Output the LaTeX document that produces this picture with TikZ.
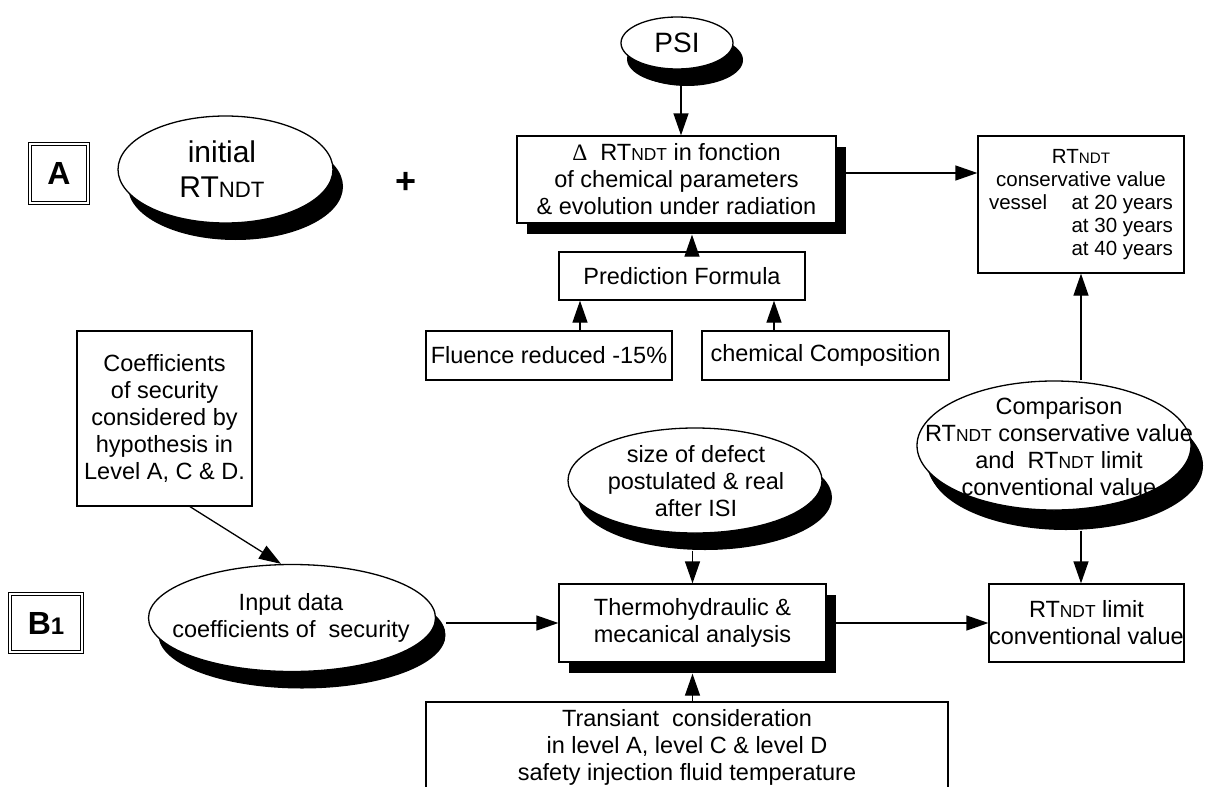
\documentclass[tikz,border=0pt]{standalone}
\usepackage{fontspec}
\setmainfont{Liberation Sans}
\newfontfamily\serifdelta{Liberation Serif}
\usepackage{graphicx}
\usetikzlibrary{arrows.meta,shapes.geometric,shadows,calc}
\newcommand\RTn{RT\scalebox{0.74}{NDT}}
\newcommand\fm{\fontsize{23.5}{27}\selectfont}
\newcommand\fsm{\fontsize{20.5}{23}\selectfont}
\tikzset{
  box/.style={draw, line width=1.3pt, rectangle, inner sep=0pt, align=center, font=\fm, fill=white},
  sbox/.style={box, general shadow={fill=black, shadow xshift=10pt, shadow yshift=-11pt}},
  oval/.style={draw, line width=1.3pt, ellipse, fill=white, inner sep=0pt,
     general shadow={fill=black, shadow xshift=10pt, shadow yshift=-17pt}},
  otext/.style={align=center, font=\fm, inner sep=0pt},
  dbox/.style={draw, double, line width=1pt, double distance=2.2pt, inner sep=0pt,
     font=\fontsize{32}{34}\selectfont\bfseries},
  arr/.style={line width=1.3pt, -{Triangle[length=22pt,width=15pt]}}
}
\begin{document}
\begin{tikzpicture}[x=1pt,y=-1pt]
\useasboundingbox (0,0) rectangle (1213,787);

% level labels
\node[dbox, minimum width=58, minimum height=59] (A) at (59,173.5) {A};
\node[dbox, minimum width=72, minimum height=58] (B) at (46,623) {B\scalebox{0.75}{1}};

% row A
\node[oval, minimum width=215, minimum height=107] (init) at (225.5,169.5) {};
\node[otext, font=\fontsize{30}{35}\selectfont] (initt) at (222,169.5) {initial\\\RTn};
\node[font=\fontsize{36}{36}\selectfont\bfseries, inner sep=0pt] (plus) at (406,183) {+};

\node[oval, minimum width=112, minimum height=52, general shadow={fill=black, shadow xshift=6pt, shadow yshift=-16pt}] (psi) at (677,43) {};
\node[otext, font=\fontsize{28}{30}\selectfont] (psit) at (677,43) {PSI};

\node[sbox, minimum width=319, minimum height=87] (delta) at (676.5,179.5)
  {{\serifdelta\char"0394}\ \ \RTn{} in fonction\\of chemical parameters\\\& evolution under radiation};
\node[box, minimum width=246, minimum height=48] (pred) at (682,276) {Prediction Formula};
\node[box, minimum width=246, minimum height=49] (flu) at (549,355.5) {Fluence reduced -15\%};
\node[box, minimum width=247, minimum height=49] (chem) at (825.5,355.5) {chemical Composition};

\node[box, font=\fsm, minimum width=206, minimum height=137] (rtc) at (1081,204.5)
  {\makebox[184pt][c]{\RTn}\\
   \makebox[184pt][c]{conservative value}\\
   \makebox[184pt]{vessel\hfill at 20 years}\\
   \makebox[184pt][r]{at 30 years}\\
   \makebox[184pt][r]{at 40 years}};

% row B
\node[box, minimum width=175, minimum height=175] (coef) at (164.5,418.5)
  {Coefficients\\of security\\considered by\\hypothesis in\\Level A, C \& D.};
\node[oval, minimum width=287, minimum height=107] (inp) at (292,618) {};
\node[otext] (inpt) at (291,617.5) {Input data\\coefficients of \ security};

\node[oval, minimum width=254, minimum height=105] (size) at (695,480.5) {};
\node[otext] (sizet) at (696,481) {size of defect\\postulated \& real\\after ISI};

\node[sbox, minimum width=267, minimum height=78] (thermo) at (692.5,623)
  {Thermohydraulic \&\\mecanical analysis};

\node[box, minimum width=522, minimum height=90] (trans) at (687,747)
  {Transiant \ consideration\\in level A, level C \& level D\\safety injection fluid temperature};

\node[oval, minimum width=274, minimum height=129, general shadow={fill=black, shadow xshift=12pt, shadow yshift=-20pt}] (cmp) at (1054,445.5) {};
\node[otext] (cmpt) at (1059,447) {Comparison\\\RTn{} conservative value\\and \ \RTn{} limit\\conventional value};

\node[box, minimum width=195, minimum height=78] (lim) at (1086.5,623)
  {\RTn{} limit\\conventional value};

% helper coordinates
\coordinate (p1) at ($(psi.south)+(4,16)$);
\coordinate (p2) at (p1 |- delta.north);
\coordinate (q1) at ($(pred.north)+(10,0)$);
\coordinate (q2) at ($(q1 |- delta.south)+(0,11)$);
\coordinate (f1) at ($(flu.north)+(31,0)$);
\coordinate (c1) at ($(chem.north)+(-51.5,0)$);
\coordinate (d1) at ($(delta.east)+(0,-6.5)$);
\coordinate (k1) at (rtc.south |- cmp.north);
\coordinate (k2) at ($(rtc.south |- cmp.south)+(0,20)$);
\coordinate (s1) at ($(thermo.north |- size.south)+(0,17)$);
\coordinate (t1) at ($(thermo.south)+(0,11)$);
\coordinate (i1) at ($(inp.east)+(10,5)$);
\coordinate (e1) at ($(coef.south)+(25.5,0)$);
\coordinate (e2) at ($(inp.north)+(-11,0)$);

% connectors
\draw[arr] (p1) -- (p2);
\draw[arr] (q1) -- (q2);
\draw[arr] (f1) -- (f1 |- pred.south);
\draw[arr] (c1) -- (c1 |- pred.south);
\draw[arr] (d1) -- (d1 -| rtc.west);
\draw[arr] (k1) -- (rtc.south);
\draw[arr] (k2) -- (k2 |- lim.north);
\draw[arr] (e1) -- (e2);
\draw[arr] (i1) -- (i1 -| thermo.west);
\draw[arr] (s1) -- (thermo.north);
\draw[arr] (thermo.south |- trans.north) -- (t1);
\draw[arr] (thermo.east) -- (thermo.east -| lim.west);
\end{tikzpicture}
\end{document}
